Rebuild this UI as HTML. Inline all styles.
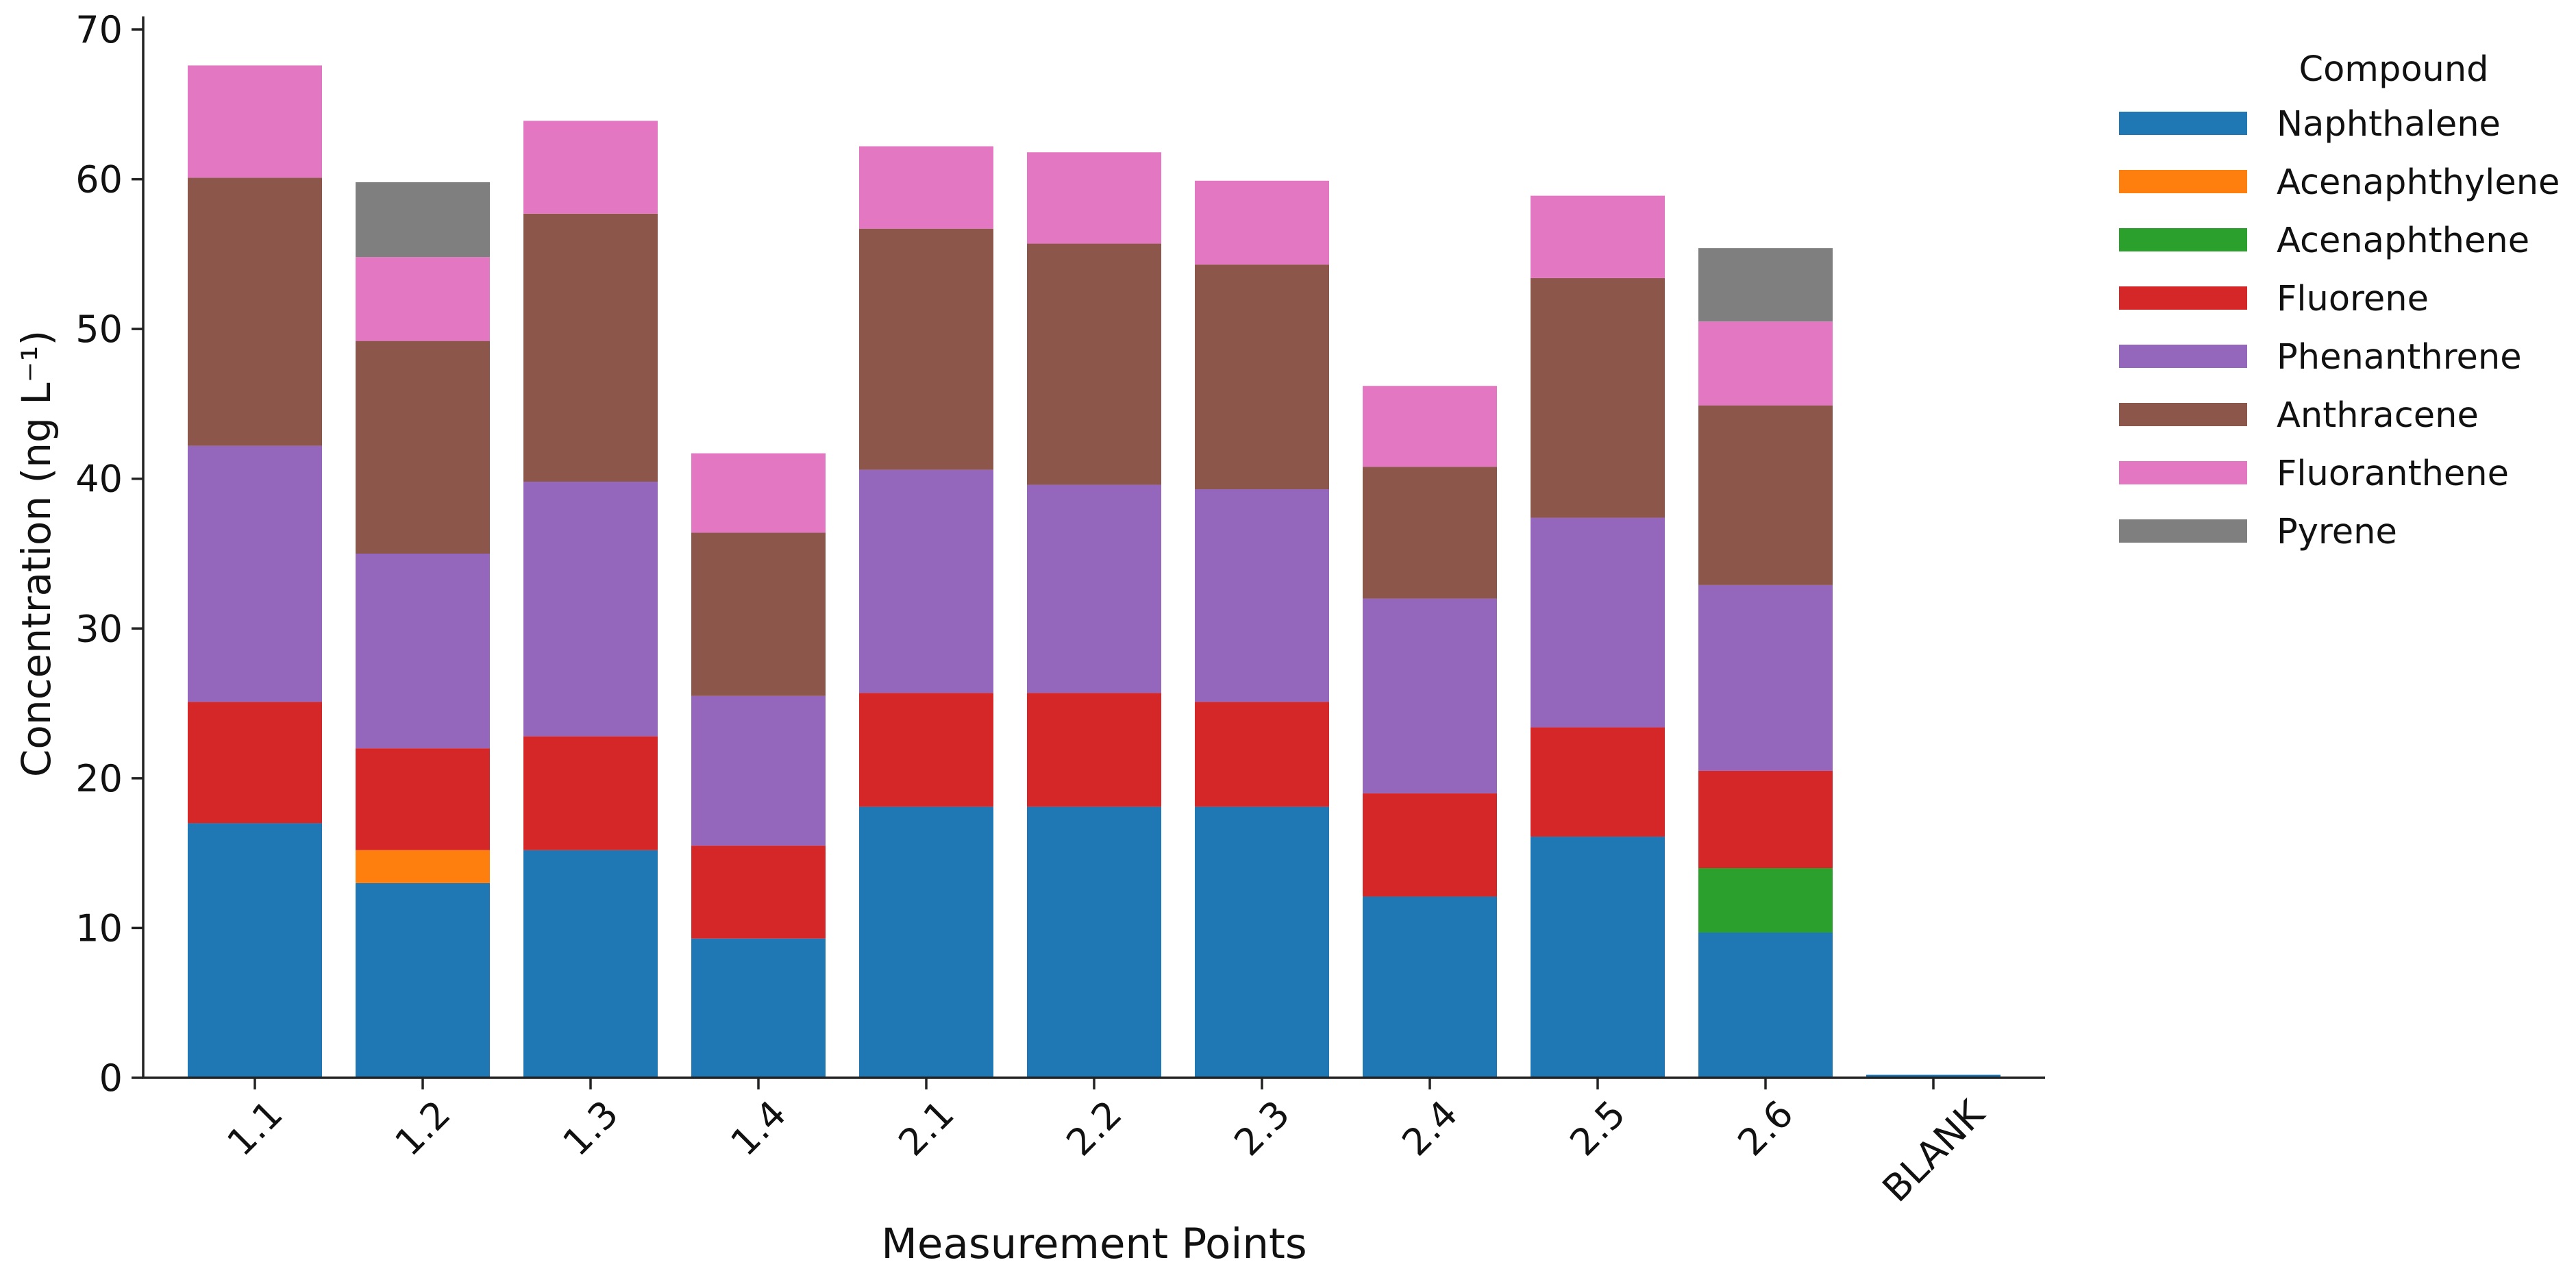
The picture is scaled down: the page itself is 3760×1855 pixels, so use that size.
<!DOCTYPE html>
<html><head><meta charset="utf-8"><style>
html,body{margin:0;padding:0;background:#fff;}
svg{display:block;font-family:"DejaVu Sans","Liberation Sans",sans-serif;}
</style></head><body>
<svg id="chart" width="3760" height="1855" viewBox="0 0 3760 1855" xmlns="http://www.w3.org/2000/svg">
<rect width="3760" height="1855" fill="#fff"/>
<g id="bars"></g>
<g id="axes"></g>
<g id="legend"></g>
</svg>
<script>
const categories = ["1.1","1.2","1.3","1.4","2.1","2.2","2.3","2.4","2.5","2.6","BLANK"];
const compounds = ["Naphthalene","Acenaphthylene","Acenaphthene","Fluorene","Phenanthrene","Anthracene","Fluoranthene","Pyrene"];
const colors = ["#1f77b4","#ff7f0e","#2ca02c","#d62728","#9467bd","#8c564b","#e377c2","#7f7f7f"];
const naphthalene   = [17,13,15.2,9.3,18.1,18.1,18.1,12.1,16.1,9.7,0.2];
const acenaphthylene= [0,2.2,0,0,0,0,0,0,0,0,0];
const acenaphthene  = [0,0,0,0,0,0,0,0,0,4.3,0];
const fluorene      = [8.1,6.8,7.6,6.2,7.6,7.6,7,6.9,7.3,6.5,0];
const phenanthrene  = [17.1,13,17,10,14.9,13.9,14.2,13,14,12.4,0];
const anthracene    = [17.9,14.2,17.9,10.9,16.1,16.1,15,8.8,16,12,0];
const fluoranthene  = [7.5,5.6,6.2,5.3,5.5,6.1,5.6,5.4,5.5,5.6,0];
const pyrene        = [0,5,0,0,0,0,0,0,0,4.9,0];
const series = [naphthalene,acenaphthylene,acenaphthene,fluorene,phenanthrene,anthracene,fluoranthene,pyrene];
const yTicks = [0,10,20,30,40,50,60,70];

const NS="http://www.w3.org/2000/svg";
const X0=209, X1=2985, Y0=1573, Y70=43, YTOP=24;
const yScale = v => Y0 - v*(Y0-Y70)/70;
const pitch = 245, firstCenter = 372;
const xScale = i => firstCenter + i*pitch;
const barW = 196;
function mk(tag, attrs, parent){const e=document.createElementNS(NS,tag);for(const k in attrs)e.setAttribute(k,attrs[k]);parent.appendChild(e);return e;}

const gb=document.getElementById('bars');
categories.forEach((c,i)=>{
  let cum=0;
  series.forEach((s,j)=>{
    const v=s[i];
    if(v<=0) return;
    const r=mk('rect',{x:xScale(i)-barW/2,y:yScale(cum+v),width:barW,height:yScale(cum)-yScale(cum+v),fill:colors[j]},gb);
    
    
    cum+=v;
  });
});

const ga=document.getElementById('axes');
let l=mk('line',{x1:X0,y1:YTOP,x2:X0,y2:Y0+1.5,stroke:'#222','stroke-width':3.5},ga);


l=mk('line',{x1:X0-1.5,y1:Y0,x2:X1,y2:Y0,stroke:'#222','stroke-width':3.5},ga);


yTicks.forEach(t=>{
  const y=yScale(t);
  const tk=mk('line',{x1:X0-17,y1:y,x2:X0,y2:y,stroke:'#222','stroke-width':3.5},ga);
  
  
  const tx=mk('text',{x:X0-30,y:y+19,'font-size':54,'text-anchor':'end',fill:'#111'},ga);
  tx.textContent=t;
  
  
});
categories.forEach((c,i)=>{
  const x=xScale(i);
  const tk=mk('line',{x1:x,y1:Y0,x2:x,y2:Y0+17,stroke:'#222','stroke-width':3.5},ga);
  
  
  const tx=mk('text',{x:0,y:0,'font-size':54,'text-anchor':'middle','dominant-baseline':'central',fill:'#111'},ga);
  tx.textContent=c;
  
  
  const w=tx.getComputedTextLength(), h=40;
  const bh=(w+h)*0.7071;
  const cy=Y0+17+12+bh/2;
  tx.setAttribute('transform','translate('+x+','+cy+') rotate(-45)');
});
let t=mk('text',{x:0,y:0,'font-size':58,'text-anchor':'middle','dominant-baseline':'central',fill:'#111',transform:'translate(53,808) rotate(-90)'},ga);
t.textContent='Concentration (ng L\u207B\u00B9)';


t=mk('text',{x:(X0+X1)/2,y:1836,'font-size':61,'text-anchor':'middle',fill:'#111'},ga);
t.textContent='Measurement Points';



const gl=document.getElementById('legend');
t=mk('text',{x:3494,y:118,'font-size':51,'text-anchor':'middle',fill:'#111'},gl);
t.textContent='Compound';


compounds.forEach((c,j)=>{
  const y=180+j*85;
  const r=mk('rect',{x:3093,y:y-17,width:187,height:34,fill:colors[j]},gl);
  
  
  const tx=mk('text',{x:3323,y:y+18,'font-size':51,fill:'#111'},gl);
  tx.textContent=c;
  
  
});
</script>
</body></html>
